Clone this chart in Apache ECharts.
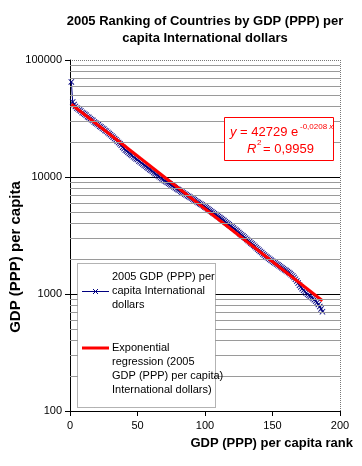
<!DOCTYPE html>
<html><head><meta charset="utf-8">
<script src="https://cdn.jsdelivr.net/npm/echarts@6/dist/echarts.min.js"></script>
<style>html,body{margin:0;padding:0;background:#fff}#c{width:362px;height:466px}</style>
</head><body><div id="c"></div>
<script>
// GDP (PPP) per capita, 2005, ordered by rank 1..187
const gdpValues = [
65000,43800,41600,40100,38900,38300,37400,36700,35600,35000,
34300,33700,32800,32300,31500,30900,30400,29500,29000,28500,
27900,27200,26800,26100,25700,25000,24600,24000,23500,23000,
22400,21900,21300,20800,20200,19700,19200,18700,18000,17500,
17000,16700,16300,15900,15600,15300,14900,14600,14300,14100,
13700,13500,13200,12900,12600,12400,12100,11900,11600,11400,
11200,10900,10700,10500,10300,10100,9900,9700,9500,9300,
9150,9000,8850,8700,8550,8400,8250,8100,7950,7800,
7700,7550,7420,7300,7150,7050,6930,6820,6700,6600,
6500,6380,6270,6150,6050,5950,5850,5750,5650,5550,
5450,5350,5250,5150,5050,4950,4860,4770,4680,4590,
4500,4410,4330,4240,4150,4060,3980,3900,3820,3740,
3660,3580,3500,3430,3350,3280,3210,3140,3070,3000,
2930,2860,2800,2730,2670,2610,2550,2490,2430,2370,
2310,2260,2200,2150,2100,2060,2020,1980,1940,1905,
1870,1840,1805,1775,1740,1710,1680,1645,1615,1585,
1555,1525,1495,1460,1425,1385,1340,1290,1240,1190,
1150,1110,1075,1045,1020,995,975,955,935,915,
895,870,845,815,780,745,705
];
// Exponential regression line endpoints (straight on a log axis)
const trendX = [1, 187];
const trendY = [41850, 875];
const xTicks = [0, 50, 100, 150, 200];
const yTicks = [100, 1000, 10000, 100000];
const seriesName = '2005 GDP (PPP) per capita International dollars';
const trendName = 'Exponential regression (2005 GDP (PPP) per capita International dollars)';

const minorGrid = [];
for (let d = 100; d < 100000; d *= 10) for (let k = 2; k <= 9; k++) minorGrid.push(k * d);

const FONT = '"Liberation Sans", Arial, sans-serif';
const NAVY = '#000080';
const xPath = 'path://M0,1 L1,0 L5,4 L9,0 L10,1 L6,5 L10,9 L9,10 L5,6 L1,10 L0,9 L4,5 Z';

const chart = echarts.init(document.getElementById('c'), null, {renderer: 'canvas'});
const G = {left: 70, top: 60, right: 340, bottom: 411};

chart.setOption({
  animation: false,
  grid: {left: G.left, top: G.top, width: G.right - G.left, height: G.bottom - G.top},
  xAxis: {
    type: 'value', min: xTicks[0], max: xTicks[xTicks.length - 1], interval: 50,
    axisLine: {lineStyle: {color: '#000', width: 1}},
    axisTick: {show: true, length: 5, lineStyle: {color: '#000'}},
    axisLabel: {fontFamily: FONT, fontSize: 11, color: '#000', margin: 9},
    splitLine: {show: false}
  },
  yAxis: {
    type: 'log', logBase: 10, min: yTicks[0], max: yTicks[yTicks.length - 1],
    axisLine: {lineStyle: {color: '#000', width: 1}},
    axisTick: {show: true, length: 5, lineStyle: {color: '#000'}},
    axisLabel: {fontFamily: FONT, fontSize: 11, color: '#000', margin: 8, formatter: v => String(Math.round(v))},
    splitLine: {show: true, lineStyle: {color: ['#000', '#000', '#000', 'rgba(0,0,0,0)'], width: 1}}
  },
  series: [
    {
      type: 'line', data: [[trendX[0], trendY[0]]], showSymbol: false, silent: true, z: 1,
      lineStyle: {width: 0},
      markLine: {
        silent: true, symbol: ['none', 'none'], label: {show: false},
        lineStyle: {color: '#9a9a9a', width: 1, type: 'solid'},
        data: minorGrid.map(v => ({yAxis: v}))
      }
    },
    {
      name: seriesName, type: 'line', z: 2,
      data: gdpValues.map((v, i) => [i + 1, v]),
      symbol: xPath, symbolSize: 6, showAllSymbol: true,
      itemStyle: {color: NAVY},
      lineStyle: {color: NAVY, width: 1}
    },
    {
      name: trendName, type: 'line', z: 3,
      data: trendX.map((x, i) => [x, trendY[i]]),
      showSymbol: false,
      lineStyle: {color: '#ff0000', width: 3}
    }
  ],
  graphic: [
    {type: 'text', style: {text: '2005 Ranking of Countries by GDP (PPP) per\ncapita International dollars',
      x: 205, y: 29.5, align: 'center', verticalAlign: 'middle', lineHeight: 17,
      font: 'bold 13px ' + FONT, fill: '#000'}},
    {type: 'text', x: 16, y: 257, rotation: Math.PI / 2,
      style: {text: 'GDP (PPP) per capita', x: 0, y: 0, align: 'center', verticalAlign: 'middle',
      font: 'bold 15px ' + FONT, fill: '#000'}},
    {type: 'text', style: {text: 'GDP (PPP) per capita rank', x: 353, y: 443, align: 'right', verticalAlign: 'middle',
      font: 'bold 13px ' + FONT, fill: '#000'}},
    // plot area dotted top/right border
    {type: 'line', shape: {x1: G.left, y1: G.top + 0.5, x2: G.right, y2: G.top + 0.5},
      style: {stroke: '#777', lineWidth: 1, lineDash: [1, 1]}},
    {type: 'line', shape: {x1: G.right + 0.5, y1: G.top, x2: G.right + 0.5, y2: G.bottom},
      style: {stroke: '#777', lineWidth: 1, lineDash: [1, 1]}},
    // equation box
    {type: 'rect', z: 10, shape: {x: 224.5, y: 117.5, width: 109, height: 43},
      style: {fill: '#fff', stroke: '#ff0000', lineWidth: 1}},
    {type: 'text', z: 11, style: {text: '{i|y} = 42729 e', x: 230, y: 132, verticalAlign: 'middle',
      font: '13px ' + FONT, fill: '#ff0000', rich: {i: {fontStyle: 'italic', fontFamily: FONT, fontSize: 13, fill: '#ff0000'}}}},
    {type: 'text', z: 11, style: {text: '-0,0208 {i|x}', x: 300, y: 127, verticalAlign: 'middle',
      font: '8px ' + FONT, fill: '#ff0000', rich: {i: {fontStyle: 'italic', fontFamily: FONT, fontSize: 8, fill: '#ff0000'}}}},
    {type: 'text', z: 11, style: {text: 'R', x: 247, y: 149, verticalAlign: 'middle',
      font: 'italic 13px ' + FONT, fill: '#ff0000'}},
    {type: 'text', z: 11, style: {text: '2', x: 257, y: 143, verticalAlign: 'middle',
      font: '8px ' + FONT, fill: '#ff0000'}},
    {type: 'text', z: 11, style: {text: '= 0,9959', x: 263, y: 149, verticalAlign: 'middle',
      font: '13px ' + FONT, fill: '#ff0000'}},
    // legend
    {type: 'rect', z: 10, shape: {x: 77.5, y: 263.5, width: 138, height: 144},
      style: {fill: '#fff', stroke: '#666', lineWidth: 1, lineDash: [1, 1]}},
    {type: 'line', z: 11, shape: {x1: 82, y1: 291.5, x2: 109, y2: 291.5}, style: {stroke: NAVY, lineWidth: 1}},
    {type: 'line', z: 11, shape: {x1: 93, y1: 289, x2: 98, y2: 294}, style: {stroke: NAVY, lineWidth: 1}},
    {type: 'line', z: 11, shape: {x1: 98, y1: 289, x2: 93, y2: 294}, style: {stroke: NAVY, lineWidth: 1}},
    {type: 'text', z: 11, style: {text: '2005 GDP (PPP) per\ncapita International\ndollars', x: 112, y: 291,
      verticalAlign: 'middle', lineHeight: 14, font: '11px ' + FONT, fill: '#000'}},
    {type: 'line', z: 11, shape: {x1: 82, y1: 348, x2: 109, y2: 348}, style: {stroke: '#ff0000', lineWidth: 3}},
    {type: 'text', z: 11, style: {text: 'Exponential\nregression (2005\nGDP (PPP) per capita)\nInternational dollars)', x: 112, y: 369,
      verticalAlign: 'middle', lineHeight: 14, font: '11px ' + FONT, fill: '#000'}}
  ]
});
</script></body></html>
